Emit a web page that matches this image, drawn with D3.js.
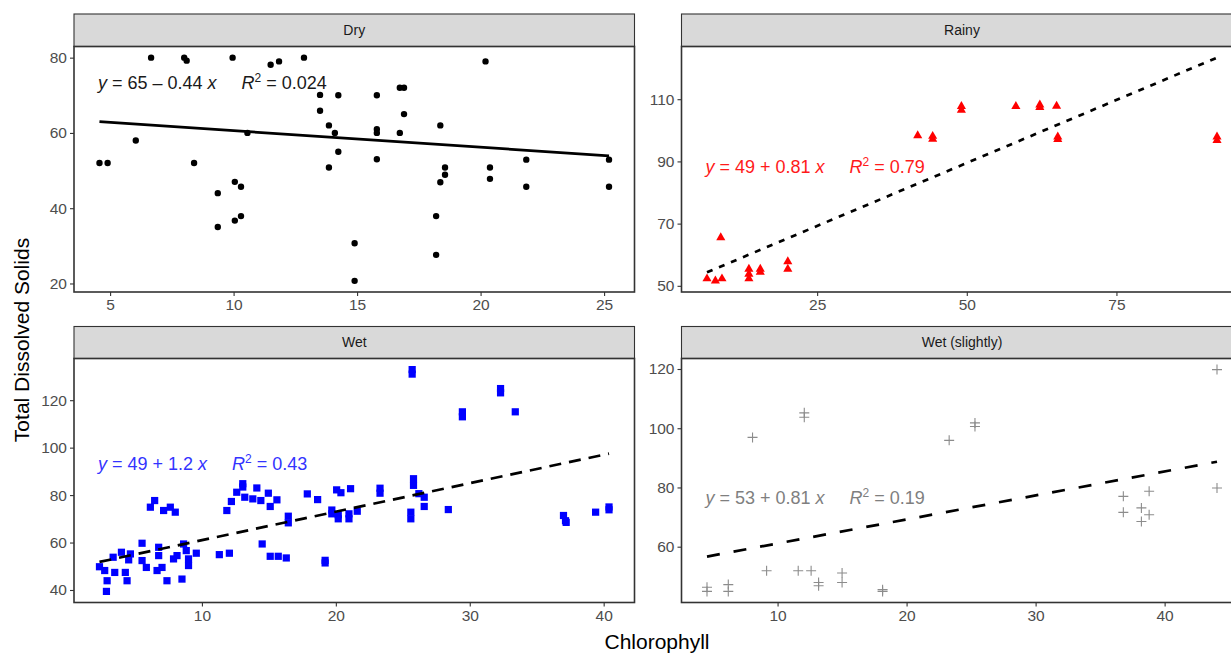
<!DOCTYPE html>
<html>
<head>
<meta charset="utf-8">
<script src="https://cdn.jsdelivr.net/npm/d3@7"></script>
<style>
  body { margin: 0; background: #fff; }
  text { font-family: "Liberation Sans", Arial, sans-serif; }
</style>
</head>
<body>
<svg id="chart" width="1231" height="653"></svg>
<script>
// facet names, in facet_wrap order
const seasons = ["Dry", "Rainy", "Wet", "Wet (slightly)"];

// Chlorophyll (x) / Total Dissolved Solids (y)
const dryX = [4.57, 4.9, 6.04, 6.66, 8.0, 8.1, 8.4, 9.36, 9.36, 9.96, 10.05, 10.3, 10.05, 10.3, 10.56, 11.5, 11.84, 12.85,
  13.5, 13.5, 13.86, 13.86, 14.1, 14.24, 14.24, 14.9, 14.9, 15.8, 15.8, 15.8, 15.8, 16.73, 16.9, 16.9, 16.73,
  18.2, 18.2, 18.37, 18.37, 18.56, 18.56, 20.2, 20.38, 20.38, 21.85, 21.85, 25.2, 25.2];
const dryY = [52, 52, 58, 80, 80, 79.2, 52, 44, 35, 80, 47, 45.7, 36.7, 37.9, 60, 78.1, 79, 80,
  70.1, 65.9, 62, 50.8, 60, 70, 55, 30.7, 20.7, 70, 61, 60, 53, 72, 72, 65, 60,
  37.9, 27.6, 62, 46.9, 50.8, 48.9, 79, 50.8, 47.8, 52.9, 45.7, 52.9, 45.7];

const rainyX = [6.6, 8.0, 9.1, 8.9, 13.6, 13.6, 13.6, 15.5, 15.5, 20.1, 20.1, 41.8, 44.3, 44.3, 49.1, 49.1,
  58.2, 62.2, 62.2, 65, 65.2, 65.2, 91.8, 91.8];
const rainyY = [52.3, 51.6, 52.3, 65.5, 55.4, 53.8, 52.3, 55.4, 54.4, 57.8, 55.4, 98.3, 98.1, 97.2, 107.7, 106.5,
  107.7, 108.2, 107.4, 107.8, 97.9, 97.1, 97.9, 96.8];

const wetX = [2.35, 2.74, 2.92, 2.87, 3.37, 3.49, 3.99, 4.28, 4.41, 4.53, 4.66, 5.53, 5.53, 5.85, 6.15, 6.47,
  6.77, 6.77, 6.65, 7.02, 7.14, 7.39, 7.64, 8.01, 7.88, 8.14, 8.51, 8.63, 8.83, 9.0, 9.0, 9.58,
  11.3, 12.05, 11.86, 12.2, 12.6, 13.05, 13.05, 13.2, 13.8, 14.1, 14.4, 14.96, 15.1, 15.6, 14.5,
  15.1, 15.7, 16.3, 16.45, 16.45, 17.87, 18.64, 19.2, 19.2, 19.7, 19.7, 20.06, 20.38, 20.18, 20.18,
  20.98, 20.98, 21.1, 21.6, 23.3, 23.3, 25.6, 25.6, 25.8, 25.8, 26.2, 26.6, 26.6, 25.7, 25.7, 28.4,
  29.45, 29.45, 32.3, 32.3, 33.4, 37.0, 37.15, 37.2, 39.4, 40.4, 40.4];
const wetY = [49.8, 48.2, 43.9, 39.4, 53.8, 47.4, 55.9, 47.4, 43.9, 52.7, 55.2, 59.7, 52.4, 49.5, 74.9, 77.7,
  58.0, 54.5, 48.2, 49.5, 73.5, 43.9, 74.9, 72.8, 53.1, 54.5, 44.6, 59.4, 56.6, 50.3, 53.1, 55.5,
  54.9, 55.5, 73.5, 77.3, 81.2, 84.8, 83.4, 79.1, 78.4, 83, 77.7, 80.8, 75.2, 78, 59.4,
  54.2, 54.2, 53.5, 71.1, 68.3, 80.5, 78.1, 51.4, 52.5, 73.7, 72.1, 82.2, 81, 71.7, 70,
  72.1, 70, 82.7, 73.2, 82.9, 80.8, 72.8, 70, 86.9, 84.1, 80.6, 79.1, 75.2, 132.9, 131, 73.9,
  115.1, 113, 124.9, 123.1, 115.1, 71.4, 69.2, 68.5, 72.8, 75, 73.8];

const slightX = [4.53, 4.53, 6.18, 6.18, 8.06, 9.15, 11.6, 12.6, 12.07, 12.07, 13.18, 13.18, 15.0, 15.0,
  18.14, 18.14, 23.3, 25.3, 25.3, 36.8, 36.8, 38.2, 38.2, 38.8, 38.8, 44.06, 44.06];
const slightY = [46.3, 44.9, 47.2, 44.9, 96.9, 51.9, 51.9, 51.9, 105.2, 103.7, 47.9, 46.8, 51.1, 47.9,
  45.5, 44.9, 95.9, 101.8, 100.6, 77, 71.6, 73.1, 68.5, 78.7, 70.8, 119.8, 79.8];

// fitted lines, as printed in the panels
const intercepts = [65, 49, 49, 53];
const slopes = [-0.44, 0.81, 1.2, 0.81];
const r2Labels = ["0.024", "0.79", "0.43", "0.19"];

const xTicks = [[5, 10, 15, 20, 25], [25, 50, 75], [10, 20, 30, 40], [10, 20, 30, 40]];
const yTicks = [[20, 40, 60, 80], [50, 70, 90, 110], [40, 60, 80, 100, 120], [60, 80, 100, 120]];

const xs = [dryX, rainyX, wetX, slightX];
const ys = [dryY, rainyY, wetY, slightY];

// looks
const pointColors = ["#000000", "#ff0000", "#0000ff", "#8c8c8c"];
const labelColors = ["#1a1a1a", "#ff1a1a", "#3333ff", "#7f7f7f"];
const dashes = [null, "6,7", "12,8", "13,14"];
const labelTop = [0.146, 0.49, 0.43, 0.57];

const cols = [[74, 634.5], [681.5, 1242.5]];
const rows = [{strip: 14, top: 46.5, bottom: 292}, {strip: 326.5, top: 358.5, bottom: 602.5}];

const svg = d3.select("#chart");

function expand(ext) {
    const pad = (ext[1] - ext[0]) * 0.05;
    return [ext[0] - pad, ext[1] + pad];
}

seasons.forEach((name, i) => {
    const col = cols[i % 2];
    const row = rows[Math.floor(i / 2)];
    const px = xs[i], py = ys[i];
    const a = intercepts[i], b = slopes[i];

    const xExt = d3.extent(px);
    const fitEnds = xExt.map(v => a + b * v);
    const yExt = d3.extent(py.concat(fitEnds));

    const x = d3.scaleLinear().domain(expand(xExt)).range(col);
    const y = d3.scaleLinear().domain(expand(yExt)).range([row.bottom, row.top]);

    // strip
    svg.append("rect")
        .attr("x", col[0]).attr("y", row.strip)
        .attr("width", col[1] - col[0]).attr("height", row.top - row.strip)
        .attr("fill", "#d9d9d9").attr("stroke", "#333").attr("stroke-width", 1.1);
    svg.append("text")
        .attr("x", (col[0] + col[1]) / 2).attr("y", (row.strip + row.top) / 2)
        .attr("dy", "0.35em").attr("text-anchor", "middle")
        .attr("font-size", 14).attr("fill", "#1a1a1a")
        .text(name);

    // axes
    const yAxis = svg.append("g")
        .attr("transform", `translate(${col[0]},0)`)
        .call(d3.axisLeft(y).tickValues(yTicks[i]).tickSize(4).tickPadding(3));
    const xAxis = svg.append("g")
        .attr("transform", `translate(0,${row.bottom})`)
        .call(d3.axisBottom(x).tickValues(xTicks[i]).tickSize(4).tickPadding(3));
    [xAxis, yAxis].forEach(g => {
        g.select(".domain").remove();
        g.selectAll(".tick line").attr("stroke", "#333").attr("stroke-width", 1.1);
        g.selectAll(".tick text").attr("fill", "#4d4d4d").attr("font-size", 15.5)
            .attr("font-family", "Liberation Sans, Arial, sans-serif");
    });

    // points
    const pts = svg.append("g");
    const data = px.map((v, k) => [v, py[k]]);
    if (i === 3) {
        pts.selectAll("path").data(data).join("path")
            .attr("d", d => `M${x(d[0]) - 5},${y(d[1])}h10M${x(d[0])},${y(d[1]) - 5}v10`)
            .attr("stroke", pointColors[i]).attr("stroke-width", 1.1).attr("fill", "none");
    } else {
        const sym = [d3.symbol(d3.symbolCircle, 32), d3.symbol(d3.symbolTriangle, 36), d3.symbol(d3.symbolSquare, 52)][i];
        pts.selectAll("path").data(data).join("path")
            .attr("transform", d => `translate(${x(d[0])},${y(d[1])})`)
            .attr("d", sym)
            .attr("fill", pointColors[i]);
    }

    // regression line
    svg.append("path")
        .attr("d", d3.line().x(d => x(d)).y(d => y(a + b * d))(xExt))
        .attr("stroke", "#000").attr("stroke-width", 2.7).attr("fill", "none")
        .attr("stroke-dasharray", dashes[i]);

    // equation label
    const lab = svg.append("text")
        .attr("x", col[0] + 24)
        .attr("y", row.top + labelTop[i] * (row.bottom - row.top))
        .attr("dy", "0.35em")
        .attr("font-size", 18).attr("fill", labelColors[i]);
    lab.append("tspan").attr("font-style", "italic").text("y");
    lab.append("tspan").text(` = ${a} ${b < 0 ? "\u2013" : "+"} ${Math.abs(b)} `);
    lab.append("tspan").attr("font-style", "italic").text("x");
    lab.append("tspan").attr("dx", 25).attr("font-style", "italic").text("R");
    lab.append("tspan").attr("dy", -7).attr("font-size", 12).text("2");
    lab.append("tspan").attr("dy", 7).text(` = ${r2Labels[i]}`);

    // panel border
    svg.append("rect")
        .attr("x", col[0]).attr("y", row.top)
        .attr("width", col[1] - col[0]).attr("height", row.bottom - row.top)
        .attr("fill", "none").attr("stroke", "#333").attr("stroke-width", 1.6);
});

// axis titles
svg.append("text")
    .attr("transform", "translate(22,340) rotate(-90)")
    .attr("text-anchor", "middle").attr("dy", "0.35em")
    .attr("font-size", 21).attr("fill", "#000")
    .text("Total Dissolved Solids");
svg.append("text")
    .attr("x", 657).attr("y", 642).attr("dy", "0.35em")
    .attr("text-anchor", "middle")
    .attr("font-size", 21).attr("fill", "#000")
    .text("Chlorophyll");
</script>
</body>
</html>
